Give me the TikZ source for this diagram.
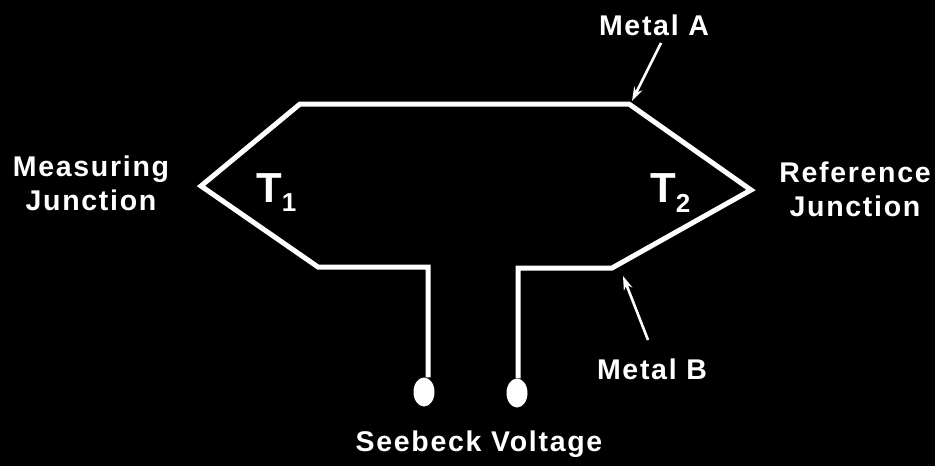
\documentclass[tikz,border=0pt]{standalone}
\usepackage{fontspec}
\setmainfont{Liberation Sans}[LetterSpace=6]
\usetikzlibrary{arrows.meta,shapes.geometric}
\begin{document}
\begin{tikzpicture}[x=1pt,y=-1pt,
  wire/.style={white,line width=5pt,line join=miter},
  pointer/.style={white,line width=2.6pt,-{Stealth[length=14pt,width=9pt]}},
  lbl/.style={text=white,font=\fontsize{28.5}{34}\selectfont\bfseries,inner sep=0pt,align=center},
  tlbl/.style={text=white,font=\fontsize{42}{46}\selectfont\bfseries,inner sep=0pt},
  term/.style={fill=white,draw=none,ellipse,minimum width=21pt,minimum height=29pt,inner sep=0pt}]
\fill[black] (0,0) rectangle (935,466);
\useasboundingbox (0,0) rectangle (935,466);
% wire vertices
\coordinate (tl) at (300,104);
\coordinate (tr) at (629,104);
\coordinate (lj) at (201,186);
\coordinate (rj) at (751,190);
\coordinate (bl) at (318,267);
\coordinate (br) at (612,268);
\coordinate (lc) at (428,267);
\coordinate (rc) at (518,268);
\node[term] (lt) at (424,392) {};
\node[term] (rt) at (517,393) {};
\draw[wire] (lt.north -| lc) -- (lc) -- (bl) -- (lj) -- (tl) -- (tr) -- (rj) -- (br) -- (rc) -- (rt.north -| rc);
% labels
\node[lbl] (ma) at (654,25) {Metal A};
\node[lbl] (mb) at (652,369) {Metal B};
\node[lbl] (mj) at (91,183) {Measuring\\Junction};
\node[lbl] (rjl) at (855,189) {Reference\\Junction};
\node[lbl] (sv) at (479,444) {Seebeck Voltage};
\node[tlbl,anchor=base west] (t1) at (256,202) {T\raisebox{-9pt}{\fontsize{26}{28}\selectfont 1}};
\node[tlbl,anchor=base west] (t2) at (650,202) {T\raisebox{-10pt}{\fontsize{26}{28}\selectfont 2}};
% pointers
\coordinate (pa) at (661,43);
\coordinate (pb) at (648,340);
\draw[pointer] (pa) -- (632,101);
\draw[pointer] (pb) -- (623,276);
\end{tikzpicture}
\end{document}
